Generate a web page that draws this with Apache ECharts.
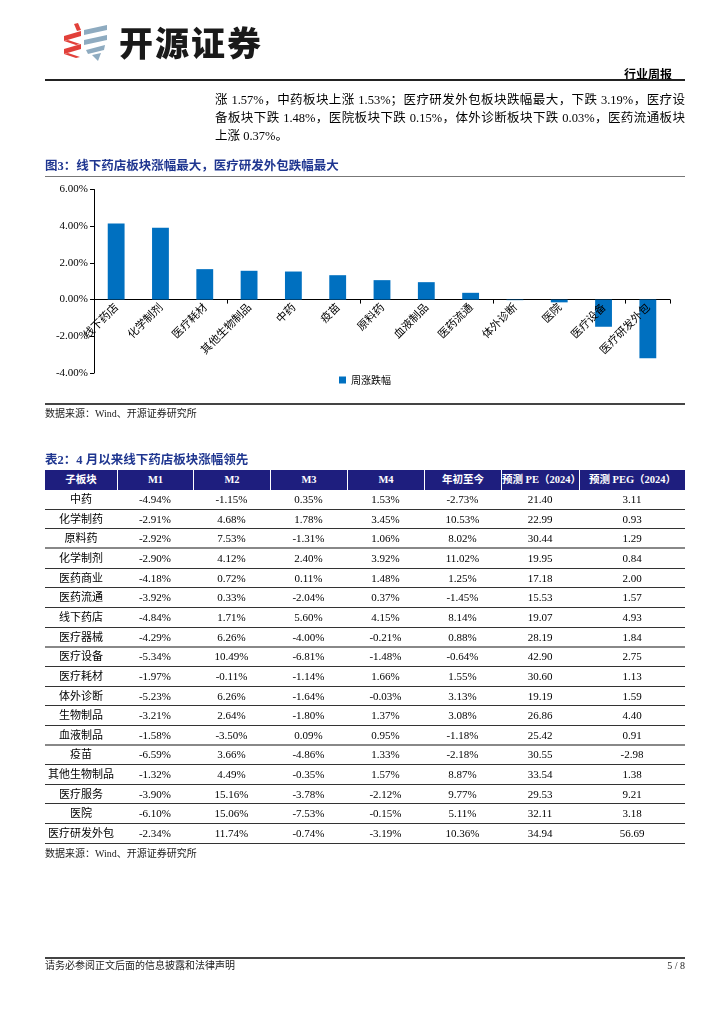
<!DOCTYPE html>
<html><head><meta charset="utf-8">
<script src="https://cdn.jsdelivr.net/npm/echarts@6/dist/echarts.min.js"></script>
<style>
body{margin:0;background:#fff;}
#page{position:relative;width:724px;height:1024px;overflow:hidden;background:#fff;font-family:"Liberation Serif","Noto Sans CJK SC",serif;color:#000;}
#chart{position:absolute;left:0;top:0;width:724px;height:1024px;}
.abs{position:absolute;white-space:nowrap;}
.hline{position:absolute;left:45px;width:640px;background:#222;}
.para{position:absolute;left:215px;width:470px;font-size:12.5px;height:18px;line-height:18px;text-align:justify;text-align-last:justify;white-space:nowrap;}
.ttl{position:absolute;left:45px;font-size:12.5px;font-weight:bold;color:#1F3690;font-family:"Liberation Serif","Noto Sans CJK SC";height:18px;line-height:18px;}
.src{position:absolute;left:45px;font-size:10px;color:#222;height:14px;line-height:14px;}
.cell{position:absolute;text-align:center;font-size:11px;white-space:nowrap;}
.hcell{position:absolute;text-align:center;font-size:10.5px;font-weight:bold;color:#fff;white-space:nowrap;}
</style></head>
<body><div id="page">
<div id="chart"></div>

<!-- logo -->
<svg class="abs" style="left:0;top:0" width="120" height="70">
  <polygon points="74,24 78,23 81,30 77,31" fill="#E2403A"/>
  <polygon points="64,36 81,31 81,36 64,41" fill="#E2403A"/>
  <polygon points="64,41 68,40 80,44 76,45" fill="#E2403A"/>
  <polygon points="64,49 81,44 81,49 64,54" fill="#E2403A"/>
  <polygon points="64,54 68,53 80,57 76,58" fill="#E2403A"/>
  <polygon points="84,30 107,25 107,30 84,35" fill="#8EABC0"/>
  <polygon points="84,40 107,35 107,40 84,45" fill="#8EABC0"/>
  <polygon points="86,50 105,45 104,50 88,54" fill="#8EABC0"/>
  <polygon points="92,55 101,53 98,61" fill="#8EABC0"/>
</svg>
<div class="abs" style="left:119px;top:20px;font-size:34px;line-height:44px;font-weight:900;letter-spacing:2px;color:#1a1a1a;font-family:'Noto Sans CJK SC';">开源证券</div>
<div class="abs" style="left:610px;top:66px;width:62px;text-align:right;font-size:12px;font-weight:bold;font-family:'Noto Sans CJK SC';line-height:16px;">行业周报</div>
<div class="hline" style="top:79px;height:1.5px;"></div>

<div class="para" style="top:91px;">涨 1.57%，中药板块上涨 1.53%；医疗研发外包板块跌幅最大，下跌 3.19%，医疗设</div>
<div class="para" style="top:109px;">备板块下跌 1.48%，医院板块下跌 0.15%，体外诊断板块下跌 0.03%，医药流通板块</div>
<div class="para" style="top:127px;text-align-last:left;">上涨 0.37%。</div>

<div class="ttl" style="top:157px;">图3：线下药店板块涨幅最大，医疗研发外包跌幅最大</div>
<div class="hline" style="top:176px;height:1px;background:#777;"></div>

<div class="hline" style="top:403px;height:1.5px;background:#444;"></div>
<div class="src" style="top:407px;">数据来源：Wind、开源证券研究所</div>

<div class="ttl" style="top:451px;">表2：4 月以来线下药店板块涨幅领先</div>
<div class="src" style="top:847px;">数据来源：Wind、开源证券研究所</div>

<div class="hline" style="top:957px;height:1.5px;background:#444;"></div>
<div class="src" style="top:959px;">请务必参阅正文后面的信息披露和法律声明</div>
<div class="src" style="top:959px;left:600px;width:85px;text-align:right;">5 / 8</div>
</div>

<script>
// ---- chart data (图3) ----
const chartCategories = ['线下药店','化学制剂','医疗耗材','其他生物制品','中药','疫苗','原料药','血液制品','医药流通','体外诊断','医院','医疗设备','医疗研发外包'];
const chartValues = [4.15, 3.92, 1.66, 1.57, 1.53, 1.33, 1.06, 0.95, 0.37, -0.03, -0.15, -1.48, -3.19];
const seriesName = '周涨跌幅';
const yTicks = [-4, -2, 0, 2, 4, 6];

// ---- table data (表2) ----
const tableHeaders = ['子板块','M1','M2','M3','M4','年初至今','预测 PE（2024）','预测 PEG（2024）'];
const sectors = ['中药','化学制药','原料药','化学制剂','医药商业','医药流通','线下药店','医疗器械','医疗设备','医疗耗材','体外诊断','生物制品','血液制品','疫苗','其他生物制品','医疗服务','医院','医疗研发外包'];
const m1 = [-4.94,-2.91,-2.92,-2.90,-4.18,-3.92,-4.84,-4.29,-5.34,-1.97,-5.23,-3.21,-1.58,-6.59,-1.32,-3.90,-6.10,-2.34];
const m2 = [-1.15,4.68,7.53,4.12,0.72,0.33,1.71,6.26,10.49,-0.11,6.26,2.64,-3.50,3.66,4.49,15.16,15.06,11.74];
const m3 = [0.35,1.78,-1.31,2.40,0.11,-2.04,5.60,-4.00,-6.81,-1.14,-1.64,-1.80,0.09,-4.86,-0.35,-3.78,-7.53,-0.74];
const m4 = [1.53,3.45,1.06,3.92,1.48,0.37,4.15,-0.21,-1.48,1.66,-0.03,1.37,0.95,1.33,1.57,-2.12,-0.15,-3.19];
const ytd = [-2.73,10.53,8.02,11.02,1.25,-1.45,8.14,0.88,-0.64,1.55,3.13,3.08,-1.18,-2.18,8.87,9.77,5.11,10.36];
const pe2024 = [21.40,22.99,30.44,19.95,17.18,15.53,19.07,28.19,42.90,30.60,19.19,26.86,25.42,30.55,33.54,29.53,32.11,34.94];
const peg2024 = [3.11,0.93,1.29,0.84,2.00,1.57,4.93,1.84,2.75,1.13,1.59,4.40,0.91,-2.98,1.38,9.21,3.18,56.69];

// ---- build table ----
(function(){
  const colW = [72,76,77,77,77,77,78,106];
  const left0 = 45, top0 = 470, headH = 20, rowH = 19.65;
  const host = document.getElementById('page');
  const xs = [left0]; colW.forEach(w => xs.push(xs[xs.length-1] + w));
  const hb = document.createElement('div');
  hb.style.cssText = `position:absolute;left:${left0}px;top:${top0}px;width:640px;height:${headH}px;background:#1E1E7E;`;
  host.appendChild(hb);
  tableHeaders.forEach((h,i) => {
    const d = document.createElement('div');
    d.className = 'hcell';
    d.style.cssText += `left:${xs[i]}px;top:${top0}px;width:${colW[i]}px;height:${headH}px;line-height:${headH}px;` + (i>0 ? 'border-left:1px solid #fff;box-sizing:border-box;' : '');
    d.textContent = h;
    host.appendChild(d);
  });
  const pct = v => v.toFixed(2) + '%';
  const num = v => v.toFixed(2);
  sectors.forEach((s, r) => {
    const vals = [s, pct(m1[r]), pct(m2[r]), pct(m3[r]), pct(m4[r]), pct(ytd[r]), num(pe2024[r]), num(peg2024[r])];
    const y = top0 + headH + r*rowH;
    vals.forEach((v,i) => {
      const d = document.createElement('div');
      d.className = 'cell';
      d.style.cssText += `left:${xs[i]}px;top:${y}px;width:${colW[i]}px;height:${rowH}px;line-height:${rowH}px;`;
      d.textContent = v;
      host.appendChild(d);
    });
    const ln = document.createElement('div');
    const thick = (r===2 || r===7 || r===12);
    ln.style.cssText = `position:absolute;left:${left0}px;width:640px;top:${y+rowH-(thick?1.5:1)}px;height:${thick?2:1}px;background:${thick?'#888':'#333'};`;
    host.appendChild(ln);
  });
})();

// ---- chart ----
const chart = echarts.init(document.getElementById('chart'), null, {renderer:'canvas'});
chart.setOption({
  animation:false,
  grid:[
    {left:94, right:54, top:189.5, bottom:651, containLabel:false},
    // label grid: its bottom edge sits on the zero line so the category labels hang from it
    {left:94, right:54, top:189.5, bottom:725, containLabel:false}
  ],
  legend:{data:[seriesName], left:334, top:370, icon:'rect', itemWidth:7, itemHeight:7, itemGap:4,
    textStyle:{fontSize:10, color:'#000', fontFamily:'Noto Sans CJK SC'}},
  xAxis:[
    {type:'category', data:chartCategories, gridIndex:0,
      axisLine:{onZero:true, lineStyle:{color:'#000', width:1}},
      axisTick:{show:true, length:4, lineStyle:{color:'#000'}},
      axisLabel:{show:false}},
    {type:'category', data:chartCategories, gridIndex:1, z:10,
      axisLine:{show:false}, axisTick:{show:false},
      axisLabel:{interval:0, rotate:45, fontSize:11, color:'#000', fontFamily:'Noto Sans CJK SC', margin:6}}
  ],
  yAxis:[
    {type:'value', min:yTicks[0], max:yTicks[yTicks.length-1], interval:2, gridIndex:0,
      axisLine:{show:true, lineStyle:{color:'#000', width:1}},
      axisTick:{show:true, length:4, lineStyle:{color:'#000'}},
      splitLine:{show:false},
      axisLabel:{formatter:v => v.toFixed(2)+'%', fontSize:11, color:'#000', fontFamily:'Liberation Serif', margin:6}},
    {type:'value', gridIndex:1, show:false, min:0, max:1}
  ],
  series:[
    {name:seriesName, type:'bar', data:chartValues, barWidth:'38%', itemStyle:{color:'#0070C0'}, xAxisIndex:0, yAxisIndex:0, z:2},
    {type:'bar', data:[], xAxisIndex:1, yAxisIndex:1, silent:true}
  ]
});
</script>
</body></html>
